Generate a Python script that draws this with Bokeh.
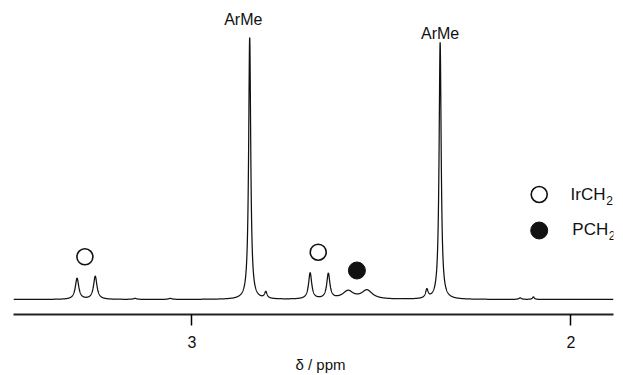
import numpy as np
from bokeh.plotting import figure
from bokeh.models import Range1d, FixedTicker, Label, Title
from bokeh.embed import file_html
from bokeh.resources import INLINE

# ---- data (1H NMR) ----
# peak list: chemical shift (ppm), peak height (intensity units), line width FWHM (ppm)
peak_shift  = [3.303, 3.255, 3.150, 3.057, 2.8475, 2.805, 2.688, 2.640, 2.588, 2.538, 2.380, 2.345, 2.134, 2.099]
peak_height = [21.0,  23.0,  1.0,   1.0,   262.0,  6.5,   26.0,  25.0,  8.0,   8.8,   8.5,   257.0, 1.5,   2.5]
peak_width  = [0.011, 0.011, 0.010, 0.010, 0.0066, 0.008, 0.010, 0.010, 0.034, 0.034, 0.008, 0.0066, 0.008, 0.006]

ppm_min, ppm_max = 1.8876, 3.4707
tick_values = [2, 3]

peak_labels = ["ArMe", "ArMe"]
label_ppm = [2.8645, 2.345]

legend_names = ["IrCH", "PCH"]

# ---- spectrum line from the peak list ----
ppm = np.linspace(ppm_max, ppm_min, 6000)
intensity = np.zeros_like(ppm)
for c, h, w in zip(peak_shift, peak_height, peak_width):
    intensity += h / (1.0 + (2.0 * (ppm - c) / w) ** 2)

p = figure(width=623, height=375, output_backend="svg", toolbar_location=None,
           x_range=Range1d(ppm_max, ppm_min), y_range=Range1d(-15, 291),
           y_axis_location=None, min_border_left=13, min_border_right=10,
           min_border_top=8, min_border_bottom=61)
p.outline_line_color = None
p.grid.visible = False
p.background_fill_color = "white"

p.line(ppm, intensity, line_color="#111111", line_width=1.25)

font = "Liberation Sans"

ax = p.xaxis[0]
ax.ticker = FixedTicker(ticks=tick_values)
ax.axis_line_width = 2
ax.axis_line_color = "#222222"
ax.major_tick_in = 0
ax.major_tick_out = 11
ax.major_tick_line_width = 1.5
ax.minor_tick_line_color = None
ax.major_label_text_font = font
ax.major_label_text_font_size = "16px"
ax.major_label_text_color = "#111111"
ax.major_label_standoff = 10

# axis label, placed below the axis
p.add_layout(Title(text="δ / ppm", align="left", offset=282, text_font=font,
                   text_font_size="15px", text_font_style="normal",
                   text_color="#111111", standoff=6), "below")

# peak labels
label_y = [280, 266.5]
for t, xp, yp in zip(peak_labels, label_ppm, label_y):
    p.add_layout(Label(x=xp, y=yp, text=t, text_font=font, text_font_size="16px",
                       text_align="center", text_baseline="middle", text_color="#111111"))

# assignment markers on peaks
p.scatter(x=[3.2823, 2.6667], y=[42.7, 47.3], marker="circle", size=16,
          fill_color="white", line_color="#111111", line_width=1.6)
p.scatter(x=[2.5646], y=[29], marker="circle", size=17,
          fill_color="#111111", line_color="#111111")

# legend
leg_ppm = 2.0836
p.scatter(x=[leg_ppm], y=[105], marker="circle", size=16,
          fill_color="white", line_color="#111111", line_width=1.6)
p.scatter(x=[leg_ppm], y=[69], marker="circle", size=17,
          fill_color="#111111", line_color="#111111")
text_ppm = [2.0008, 1.9963]
for name, tx, yy in zip(legend_names, text_ppm, [105, 70]):
    p.add_layout(Label(x=tx, y=yy, text=name, text_font=font, text_font_size="17px",
                       text_align="left", text_baseline="middle", text_color="#111111"))
sub_ppm = [1.9068, 1.9002]
for sx, yy in zip(sub_ppm, [99, 64]):
    p.add_layout(Label(x=sx, y=yy, text="2", text_font=font, text_font_size="12px",
                       text_align="left", text_baseline="middle", text_color="#111111"))

open("out.html", "w").write(file_html(p, INLINE))
